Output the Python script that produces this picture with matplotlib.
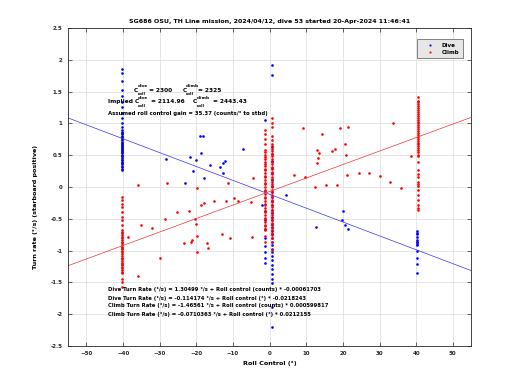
import matplotlib
matplotlib.use("Agg")
import matplotlib.pyplot as plt
import numpy as np

plt.rcParams['font.family'] = ['DejaVu Sans']
plt.rcParams['font.weight'] = 'bold'

title = "SG686 OSU, TH Line mission, 2024/04/12, dive 53 started 20-Apr-2024 11:46:41"

# ---- Dive (blue) data ----
dive_col_m40_x = -40.3
dive_col_m40_y = [1.85, 1.79, 1.66, 1.53, 1.43, 1.34, 1.26, 1.16, 1.08, 1.00, 0.95, 0.90,
                  0.87, 0.85, 0.84, 0.81, 0.79, 0.78, 0.75, 0.74, 0.71, 0.70, 0.68, 0.66,
                  0.65, 0.63, 0.61, 0.60, 0.58, 0.56, 0.55, 0.53, 0.51, 0.49, 0.48, 0.46,
                  0.43, 0.42, 0.40, 0.37, 0.36, 0.33, 0.31, 0.29, 0.27]
dive_col_p40_x = 40.3
dive_col_p40_y = [-0.69, -0.72, -0.74, -0.78, -0.84, -0.86, -0.87, -0.89, -0.92, -1.00,
                  -1.11, -1.21, -1.36]
dive_col_z_x = 0.7
dive_col_z_y = [1.92, 1.76, 0.63, 0.52, 0.41, 0.30, 0.22, 0.11, 0.02, -0.08, -0.15,
                -0.22, -0.29, -0.36, -0.41, -0.47, -0.52, -0.58, -0.63, -0.69, -0.74,
                -0.80, -0.86, -0.92, -0.97, -1.03, -1.09, -1.15, -1.22, -1.29, -1.37,
                -1.44, -1.51, -1.88, -2.20]
dive_col_zm_x = -1.2
dive_col_zm_y = [1.06, -0.38, -0.52, -0.66, -0.80, -0.93, -1.02, -1.12, -1.20]
dive_sc_x = [-18.9, -18.3, -18.6, -28.3, -21.8, -20.1, -20.9, -23.1, -17.9, -16.3,
             -13.6, -12.8, -12.1, -12.8, -7.3, 4.5, -2.0, 20.0, 19.7, 20.6, 12.6, 21.4]
dive_sc_y = [0.81, 0.81, 0.54, 0.44, 0.47, 0.42, 0.25, 0.07, 0.14, 0.34,
             0.32, 0.38, 0.41, 0.22, 0.60, -0.13, -0.29, -0.37, -0.52, -0.60, -0.63, -0.66]

# ---- Climb (red) data ----
climb_col_m40_x = -40.3
climb_col_m40_y = [-0.15, -0.20, -0.27, -0.31, -0.39, -0.47, -0.52, -0.60, -0.67, -0.70,
                   -0.73, -0.76, -0.78, -0.81, -0.83, -0.86, -0.88, -0.91, -0.94, -0.96,
                   -0.98, -1.01, -1.03, -1.06, -1.09, -1.11, -1.13, -1.16, -1.19, -1.21,
                   -1.23, -1.26, -1.28, -1.31, -1.33, -1.36, -1.44, -1.49, -1.57]
climb_col_p40_x = 40.4
climb_col_p40_y = [1.41, 1.36, 1.33, 1.30, 1.27, 1.24, 1.21, 1.18, 1.15, 1.12, 1.09,
                   1.06, 1.03, 1.00, 0.97, 0.94, 0.91, 0.88, 0.85, 0.82, 0.79, 0.76,
                   0.73, 0.70, 0.67, 0.64, 0.61, 0.58, 0.55, 0.51, 0.48, 0.40, 0.27,
                   0.20, 0.16, 0.08, 0.05, 0.02, -0.05, -0.13, -0.20, -0.28, -0.33, -0.36]
climb_col_zm_x = -1.2
climb_col_zm_y = [0.90, 0.84, 0.76, 0.68, 0.58, 0.55, 0.51, 0.47, 0.44, 0.40, 0.36,
                  0.33, 0.29, 0.26, 0.22, 0.18, 0.15, 0.11, 0.07, 0.04, 0.00, -0.04,
                  -0.07, -0.11, -0.15, -0.18, -0.22, -0.26, -0.29, -0.33, -0.37, -0.40,
                  -0.44, -0.48, -0.51, -0.55, -0.59, -0.62, -0.66, -0.68, -0.77, -0.86]
climb_col_zp_x = 0.7
climb_col_zp_y = [1.08, 1.00, 0.95, 0.80, 0.74, 0.68, 0.64, 0.60, 0.56, 0.52, 0.48,
                  0.44, 0.40, 0.36, 0.32, 0.28, 0.24, 0.20, 0.16, 0.12, 0.08, 0.04,
                  0.00, -0.04, -0.08, -0.12, -0.16, -0.20, -0.24, -0.28, -0.32, -0.36,
                  -0.40, -0.44, -0.48, -0.52, -0.56, -0.60, -0.64, -0.68, -0.72, -0.76,
                  -0.80, -0.86, -0.99]
climb_sc_x = [-36.0, -27.9, -19.9, -11.3, -9.8, -8.6, -18.7, -18.0, -15.3, -11.8,
              -25.3, -21.9, -28.5, -20.3, -35.2, -32.0, -20.0, -38.7, -19.9, -21.3,
              -21.4, -23.4, -17.1, -16.9, -13.1, -10.9, -19.9, -29.9, -36.0,
              -4.6, -5.2, -4.8,
              9.1, 14.3, 19.3, 21.4, 33.8, 20.5, 17.8, 17.0, 12.8, 13.6, 13.1, 13.0,
              20.9, 6.7, 9.6, 21.2, 24.3, 27.1, 30.0, 32.9, 35.9, 12.5, 15.4, 18.3, 38.7]
climb_sc_y = [0.03, 0.07, -0.01, 0.06, -0.17, -0.22, -0.28, -0.25, -0.22, -0.22,
              -0.40, -0.37, -0.50, -0.50, -0.59, -0.64, -0.58, -0.79, -0.77, -0.83,
              -0.87, -0.88, -0.88, -0.96, -0.74, -0.81, -1.02, -1.12, -1.40,
              0.14, -0.23, -0.79,
              0.93, 0.83, 0.93, 0.94, 1.01, 0.68, 0.60, 0.56, 0.58, 0.53, 0.46, 0.38,
              0.50, 0.19, 0.15, 0.19, 0.22, 0.22, 0.18, 0.08, -0.02, 0.00, 0.03, 0.03, 0.49]

# ---- fits ----
dive_fit = (-0.114174, -0.0218243)
climb_fit = (-0.0710363, 0.0212155)

x_ticks = [-50, -40, -30, -20, -10, 0, 10, 20, 30, 40, 50]
y_ticks = [-2.5, -2, -1.5, -1, -0.5, 0, 0.5, 1, 1.5, 2, 2.5]
y_ticklabels = ['-2.5', '-2', '-1.5', '-1', '-0.5', '0', '0.5', '1', '1.5', '2', '2.5']

fig = plt.figure(figsize=(5.2, 3.9), dpi=100)
ax = fig.add_axes([0.131, 0.113, 0.775, 0.815])

dx = ([dive_col_m40_x] * len(dive_col_m40_y) + [dive_col_p40_x] * len(dive_col_p40_y)
      + [dive_col_z_x] * len(dive_col_z_y) + [dive_col_zm_x] * len(dive_col_zm_y) + dive_sc_x)
dy = dive_col_m40_y + dive_col_p40_y + dive_col_z_y + dive_col_zm_y + dive_sc_y
cx = ([climb_col_m40_x] * len(climb_col_m40_y) + [climb_col_p40_x] * len(climb_col_p40_y)
      + [climb_col_zm_x] * len(climb_col_zm_y) + [climb_col_zp_x] * len(climb_col_zp_y) + climb_sc_x)
cy = climb_col_m40_y + climb_col_p40_y + climb_col_zm_y + climb_col_zp_y + climb_sc_y

ms = 1.9
ax.plot(dx, dy, linestyle='none', marker='o', markersize=ms, color='blue',
        markeredgewidth=0, label='Dive')
ax.plot(cx, cy, linestyle='none', marker='o', markersize=ms, color='red',
        markeredgewidth=0, label='Climb')

xl = np.array([-55, 55])
ax.plot(xl, dive_fit[0] + dive_fit[1] * xl, color='#3333ee', linewidth=0.5)
ax.plot(xl, climb_fit[0] + climb_fit[1] * xl, color='#ee3333', linewidth=0.5)

ax.set_xlim(-55, 55)
ax.set_ylim(-2.5, 2.5)
ax.set_xticks(x_ticks)
ax.set_yticks(y_ticks)
ax.set_yticklabels(y_ticklabels)
ax.grid(True, color='#e0e0e0', linewidth=0.6)
ax.set_axisbelow(True)
ax.tick_params(direction='in', length=3, width=0.5, labelsize=4, top=True, right=True,
               pad=4, colors='#262626')
for s in ax.spines.values():
    s.set_linewidth(0.6)
    s.set_color('#262626')

ax.set_title(title, fontsize=4.5, fontweight='bold', pad=4)
ax.set_xlabel('Roll Control (°)', fontsize=4.6, fontweight='bold', labelpad=3)
ax.set_ylabel('Turn rate (°/s) (starboard positive)', fontsize=4.6, fontweight='bold')
ax.yaxis.set_label_coords(-0.074, 0.437)

fs = 3.9
fm = 4.2   # main size of coefficient lines
fsub = 3.1  # script size

def ctext(x, y, s, size, va='center'):
    ax.text(x, y, s, fontsize=size, fontweight='bold', va=va, ha='left')

# Line 1
ctext(-37.1, 1.525, 'C', fm)
ctext(-36.1, 1.59, 'dive', fsub)
ctext(-36.1, 1.47, 'roll', fsub)
ctext(-32.8, 1.525, '= 2300', fm)
ctext(-23.8, 1.525, 'C', fm)
ctext(-22.85, 1.59, 'climb', fsub)
ctext(-22.85, 1.47, 'roll', fsub)
ctext(-19.6, 1.525, '= 2325', fm)
# Line 2
ctext(-44.0, 1.34, 'Implied C', fm)
ctext(-35.9, 1.40, 'dive', fsub)
ctext(-35.9, 1.28, 'roll', fsub)
ctext(-32.5, 1.34, '= 2114.96', fm)
ctext(-20.9, 1.34, 'C', fm)
ctext(-19.8, 1.40, 'climb', fsub)
ctext(-19.8, 1.28, 'roll', fsub)
ctext(-15.5, 1.34, '= 2443.43', fm)
# Line 3
ctext(-44.0, 1.16, 'Assumed roll control gain = 35.37 (counts/° to stbd)', fs)

eqs = ["Dive Turn Rate (°/s) = 1.30499 °/s + Roll control (counts) * -0.00061703",
       "Dive Turn Rate (°/s) = -0.114174 °/s + Roll control (°) * -0.0218243",
       "Climb Turn Rate (°/s) = -1.46561 °/s + Roll control (counts) * 0.000599817",
       "Climb Turn Rate (°/s) = -0.0710363 °/s + Roll control (°) * 0.0212155"]
eq_y = [-1.62, -1.75, -1.87, -2.0]
for t, yv in zip(eqs, eq_y):
    ax.text(-44.0, yv, t, fontsize=3.8, fontweight='bold', va='center')

leg = ax.legend(loc='upper right', fontsize=4.0, frameon=True, fancybox=False,
                markerscale=0.8, handlelength=3.2, handletextpad=0.6, borderpad=0.6,
                labelspacing=0.35, bbox_to_anchor=(0.9865, 0.973))
leg.get_frame().set_facecolor('#e6e6e6')
leg.get_frame().set_edgecolor('#555555')
leg.get_frame().set_linewidth(0.5)
leg.get_frame().set_alpha(1.0)

fig.savefig('out.png', dpi=100)
